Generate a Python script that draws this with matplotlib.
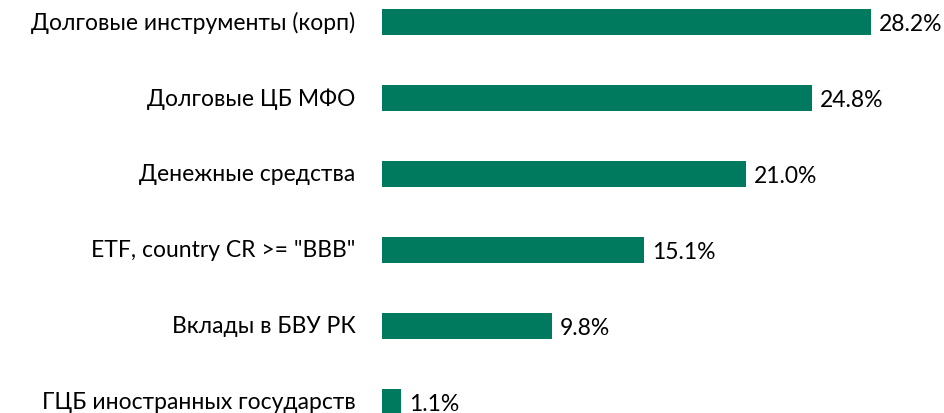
import matplotlib
matplotlib.use("Agg")
from matplotlib import pyplot as plt
import matplotlib.transforms as mtransforms

# структура портфеля, %
categories = ['Долговые инструменты (корп)', 'Долговые ЦБ МФО', 'Денежные средства',
              'ETF, country CR >= "BBB"', 'Вклады в БВУ РК', 'ГЦБ иностранных государств']
values = [28.2, 24.8, 21.0, 15.1, 9.8, 1.1]
value_labels = ['28.2%', '24.8%', '21.0%', '15.1%', '9.8%', '1.1%']

plt.rcParams['font.family'] = ['Lato', 'DejaVu Sans']

fig = plt.figure(figsize=(9.45, 4.14), dpi=100)
ax = fig.add_axes([382 / 945, 0, 520 / 945, 1])

ypos = list(range(len(categories)))
ax.barh(ypos, values, height=0.34, color='#007A5E')

for y, v, lab in zip(ypos, values, value_labels):
    ax.annotate(lab, (v, y), xytext=(6, -1), textcoords='offset points',
                va='center', ha='left', fontsize=16.5, color='#000000',
                annotation_clip=False)

ax.set_xlim(0, 30)
ax.set_ylim(5.145, -0.30)
ax.set_yticks(ypos)
ax.set_yticklabels(categories, fontsize=16.5)
ax.tick_params(axis='y', length=0, pad=19)
# чуть приподнять подписи, чтобы нижняя не обрезалась
shift = mtransforms.ScaledTranslation(0, 1.5 / 72, fig.dpi_scale_trans)
for t in ax.get_yticklabels():
    t.set_transform(t.get_transform() + shift)
ax.set_xticks([])
for s in ax.spines.values():
    s.set_visible(False)

fig.savefig('out.png', dpi=100)
